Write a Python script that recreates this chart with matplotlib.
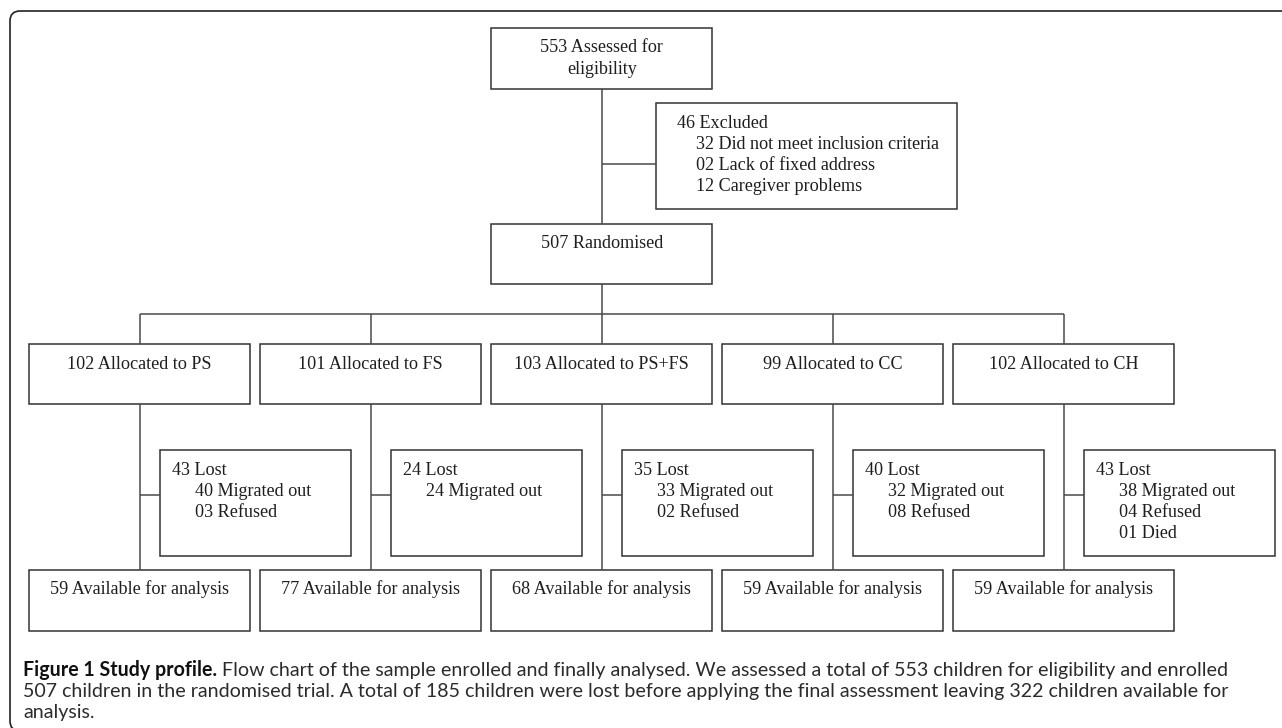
import matplotlib
matplotlib.use("Agg")
import matplotlib.pyplot as plt
from matplotlib.patches import Rectangle
from matplotlib.path import Path
from matplotlib.patches import PathPatch

# ---------------- data ----------------
assessed = 553
excluded = 46
excl_counts = [32, 2, 12]
excl_labels = ["Did not meet inclusion criteria", "Lack of fixed address", "Caregiver problems"]
randomised = 507
arms = ["PS", "FS", "PS+FS", "CC", "CH"]
allocated = [102, 101, 103, 99, 102]
lost = [43, 24, 35, 40, 43]
migrated = [40, 24, 33, 32, 38]
refused = [3, 0, 2, 8, 4]
died = [0, 0, 0, 0, 1]
available = [59, 77, 68, 59, 59]
caption_bold = "Figure 1 Study profile."
caption_rest = ["Flow chart of the sample enrolled and finally analysed. We assessed a total of 553 children for eligibility and enrolled",
                "507 children in the randomised trial. A total of 185 children were lost before applying the final assessment leaving 322 children available for",
                "analysis."]

# ---------------- figure ----------------
W, H = 1282, 728
fig = plt.figure(figsize=(W / 100, H / 100), dpi=100)
ax = fig.add_axes([0, 0, 1, 1])
ax.set_xlim(0, W)
ax.set_ylim(H, 0)
ax.axis("off")

BOX_C = "#333333"
LINE_C = "#4a4a4a"
TXT_C = "#1e1e1e"
SERIF = "Liberation Serif"
FS = 13.1
LW = 1.1


def box(x0, y0, x1, y1):
    ax.add_patch(Rectangle((x0, y0), x1 - x0, y1 - y0, fill=False, ec=BOX_C, lw=LW))


def line(xs, ys):
    ax.plot(xs, ys, color=LINE_C, lw=LW, solid_capstyle="butt")


def txt(x, y, s, ha="left"):
    ax.text(x, y, s, fontsize=FS, family=SERIF, color=TXT_C, ha=ha, va="baseline")


# outer frame with rounded left corners (bottom edge just below the canvas)
r = 10
yb = 731
verts = [(W + 5, 11), (10 + r, 11), (10, 11), (10, 11 + r), (10, yb - r), (10, yb), (10 + r, yb), (W + 5, yb)]
codes = [Path.MOVETO, Path.LINETO, Path.CURVE3, Path.CURVE3, Path.LINETO, Path.CURVE3, Path.CURVE3, Path.LINETO]
ax.add_patch(PathPatch(Path(verts, codes), fill=False, ec="#222222", lw=1.2, clip_on=False))

cx_main = 601.7
# top box
box(491, 28, 712, 89)
txt(cx_main, 52, f"{assessed} Assessed for", ha="center")
txt(cx_main, 73.5, "eligibility", ha="center")
line([cx_main, cx_main], [89, 224])

# excluded box
box(656, 103, 957, 209)
line([cx_main, 656], [164, 164])
txt(677, 127.7, f"{excluded} Excluded")
for k, (c, lab) in enumerate(zip(excl_counts, excl_labels)):
    txt(696.5, 127.7 + 21 * (k + 1), f"{c:02d} {lab}")

# randomised box
box(491, 224, 712, 284)
txt(cx_main, 248.5, f"{randomised} Randomised", ha="center")
line([cx_main, cx_main], [284, 314])

spacing = 231.0
centers = [139.7 + i * spacing for i in range(len(arms))]
half = 110.6
line([centers[0], centers[-1]], [314, 314])

for i, arm in enumerate(arms):
    cx = centers[i]
    line([cx, cx], [314, 344])
    box(cx - half, 344, cx + half, 404)
    txt(cx, 368.7, f"{allocated[i]} Allocated to {arm}", ha="center")
    line([cx, cx], [404, 570])
    # lost box
    lx0, lx1 = cx + 20.3, cx + 211
    box(lx0, 450, lx1, 556)
    line([cx, lx0], [495.3, 495.3])
    txt(lx0 + 12.3, 475, f"{lost[i]} Lost")
    details = []
    if migrated[i]:
        details.append(f"{migrated[i]:02d} Migrated out")
    if refused[i]:
        details.append(f"{refused[i]:02d} Refused")
    if died[i]:
        details.append(f"{died[i]:02d} Died")
    for k, d in enumerate(details):
        txt(lx0 + 35, 475 + 21 * (k + 1), d)
    # available box
    box(cx - half, 570, cx + half, 631)
    txt(cx, 594.5, f"{available[i]} Available for analysis", ha="center")

# ---------------- caption ----------------
CAP_FONT = "Lato"
cap_x0 = 23
line_ends = [1252, 1191]
baselines = [676, 697, 718]
renderer = fig.canvas.get_renderer()


def width_of(s, size, weight):
    t = ax.text(0, 0, s, fontsize=size, family=CAP_FONT, fontweight=weight)
    w = t.get_window_extent(renderer=renderer).width
    t.remove()
    return w

s0 = 12.0
w1 = width_of(caption_bold + " ", s0, "bold") + width_of(caption_rest[0], s0, "normal")
w2 = width_of(caption_rest[1], s0, "normal")
cs = s0 * 0.5 * ((line_ends[0] - cap_x0) / w1 + (line_ends[1] - cap_x0) / w2)

bold_w = width_of(caption_bold + " ", cs, "bold")
ax.text(cap_x0, baselines[0], caption_bold, fontsize=cs, family=CAP_FONT, fontweight="bold",
        color="#111111", va="baseline")
ax.text(cap_x0 + bold_w, baselines[0], caption_rest[0], fontsize=cs, family=CAP_FONT,
        color="#2b2b2b", va="baseline")
for k in (1, 2):
    ax.text(cap_x0, baselines[k], caption_rest[k], fontsize=cs, family=CAP_FONT,
            color="#2b2b2b", va="baseline")

fig.savefig("out.png", dpi=100)
